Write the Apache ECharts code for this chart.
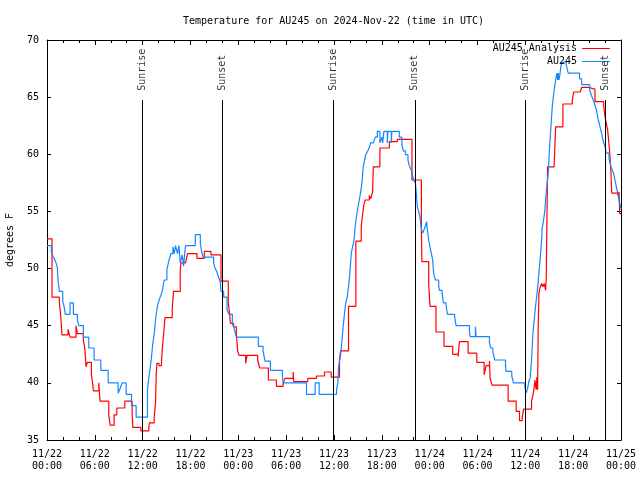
<!DOCTYPE html>
<html><head><meta charset="utf-8">
<script src="https://cdn.jsdelivr.net/npm/echarts@6/dist/echarts.min.js"></script>
<style>html,body{margin:0;padding:0;background:#fff}#c{width:640px;height:480px}</style>
</head><body><div id="c"></div>
<script>
const titleText = 'Temperature for AU245 on 2024-Nov-22 (time in UTC)';
const yAxisName = 'degrees F';
const seriesNames = ['AU245 Analysis', 'AU245'];
const seriesColors = ['#ff0000', '#1486ff'];
const xTickLabels = ['11/22\n00:00','11/22\n06:00','11/22\n12:00','11/22\n18:00',
  '11/23\n00:00','11/23\n06:00','11/23\n12:00','11/23\n18:00',
  '11/24\n00:00','11/24\n06:00','11/24\n12:00','11/24\n18:00','11/25\n00:00'];
// hours since 11/22 00:00 UTC
const sunEventNames = ['Sunrise','Sunset','Sunrise','Sunset','Sunrise','Sunset'];
const sunEventHours = [11.95, 21.99, 35.92, 46.13, 60.0, 70.03];

const analysisHours = [0,0.63,1.55,1.72,1.88,2.64,2.89,3.64,3.81,4.56,4.74,4.90,5.06,5.57,5.74,5.82,6.50,6.57,6.66,7.75,7.92,8.42,8.76,9.76,10.68,10.77,11.77,12.78,12.86,13.45,13.61,13.70,13.78,14.04,14.36,14.45,14.70,14.79,15.71,15.87,16.71,16.80,17.38,17.63,18.81,19.73,20.57,21.83,22.74,22.91,23.00,23.41,23.75,23.84,23.91,24.09,24.92,25.09,26.43,26.68,27.77,28.78,29.62,29.87,30.88,30.95,32.71,33.80,34.81,35.65,36.69,36.82,37.82,38.74,39.42,39.58,39.75,39.92,40.43,40.59,40.84,40.93,41.76,42.94,43.94,45.78,46.96,47.03,47.88,48.04,48.79,49.80,50.89,51.56,51.73,52.82,53.91,54.83,55.08,55.50,55.58,55.83,57.84,58.85,59.27,59.60,59.78,60.78,60.95,61.11,61.20,61.36,61.45,61.54,61.61,61.70,61.86,62.04,62.20,62.37,62.54,62.62,62.79,63.62,63.80,64.71,65.88,66.06,66.89,67.06,67.90,68.74,69.83,69.99,70.16,70.33,70.58,70.75,70.84,71.59,71.75,71.84,72.0];
const analysisTemps = [52.6,47.5,47.0,45.9,44.2,44.7,44.0,45.0,44.3,43.8,43.0,41.4,41.8,40.7,39.85,39.3,40.0,39.2,38.4,37.2,36.3,37.2,37.8,38.4,37.3,36.1,35.8,36.2,36.5,37.0,38.2,40.7,41.7,41.5,41.8,42.9,44.8,45.7,46.5,48.0,49.9,50.5,50.6,51.3,50.9,51.5,51.2,48.9,47.0,46.0,45.2,44.9,44.3,43.5,42.8,42.4,41.7,42.4,42.0,41.3,40.25,39.7,40.0,40.4,40.95,40.1,40.4,40.6,40.95,40.5,41.95,42.8,46.7,52.4,53.7,54.7,55.6,56.0,56.4,56.1,56.7,58.9,60.55,61.1,61.3,57.75,53.4,50.6,48.65,46.7,44.45,43.2,42.5,42.3,43.6,42.6,41.8,40.7,41.5,41.9,40.4,39.8,38.4,37.5,36.7,36.9,37.7,38.4,38.9,39.6,40.25,39.4,40.5,39.4,44.6,47.8,48.4,48.7,48.4,48.7,48.1,49.1,58.9,59.2,62.4,64.4,64.7,65.45,65.6,65.85,65.7,64.6,64.2,63.3,62.7,62.1,60.2,58.3,56.6,56.4,56.7,54.8,54.8];

const obsHours = [0,0.54,0.79,0.97,1.13,1.29,1.38,1.55,1.97,2.14,2.30,2.89,3.31,3.81,3.98,4.56,5.24,5.91,6.75,7.67,8.92,9.17,9.42,9.93,10.60,11.18,12.60,12.78,12.94,13.11,13.28,13.45,13.61,13.78,13.95,14.20,14.45,14.70,15.04,15.29,15.54,15.80,15.96,16.12,16.37,16.55,16.71,16.96,17.13,17.30,17.38,18.60,19.23,19.39,19.57,20.90,21.07,21.32,21.49,21.74,21.83,22.16,22.58,22.83,23.25,23.50,23.75,26.51,27.10,27.35,28.02,29.53,29.62,32.55,33.64,34.14,36.32,36.48,36.57,36.82,36.98,37.07,37.23,37.32,37.48,37.66,37.82,37.99,38.16,38.33,38.49,38.66,38.83,38.99,39.17,39.33,39.50,39.67,39.83,40.00,40.25,40.43,40.59,40.93,41.18,41.44,41.76,42.01,42.10,42.26,42.69,42.76,43.19,43.26,44.19,44.52,44.69,44.95,45.28,45.45,45.70,45.87,46.04,46.21,46.29,46.46,46.62,46.79,46.96,47.13,47.28,47.46,47.62,47.71,47.88,48.04,48.21,48.38,48.46,48.55,48.72,49.13,49.22,49.55,49.72,50.05,50.23,51.14,51.31,52.99,53.07,53.74,53.82,55.50,55.66,55.92,56.17,57.51,57.58,58.30,58.52,59.94,60.10,60.28,60.44,60.61,60.78,60.95,61.11,61.28,61.45,61.61,61.70,61.86,62.04,62.11,62.29,62.45,62.54,62.70,62.87,63.05,63.21,63.38,63.55,63.72,63.88,63.97,64.05,64.13,64.21,64.30,64.46,64.55,64.71,65.13,65.38,66.80,67.06,68.07,68.32,68.49,68.65,68.90,69.15,69.33,69.58,69.74,69.99,70.16,70.50,70.75,70.91,71.08,71.25,71.41,71.59,71.75,71.91,72.0];
const obsTemps = [52.0,51.5,51.0,50.8,50.5,50.1,49.0,48.0,47.2,46.7,46.0,47.0,46.0,45.5,45.0,44.0,43.05,42.0,41.1,40.0,39.1,39.5,40.0,39.0,38.0,37.0,39.4,40.5,41.3,42.3,43.5,44.3,45.5,46.4,47.0,47.5,48.0,49.0,49.9,50.7,51.3,51.9,51.3,52.0,51.3,52.0,50.5,51.2,50.2,51.5,52.0,52.97,52.2,51.5,51.0,50.5,50.05,49.7,49.3,48.8,48.0,47.5,46.4,46.0,45.2,44.7,44.0,43.2,42.8,41.9,41.1,40.6,40.0,39.0,40.0,39.0,39.4,40.0,41.4,42.4,43.5,44.3,45.5,46.1,47.0,47.5,48.4,49.6,51.3,51.9,52.4,53.7,54.6,55.3,56.0,56.6,57.5,58.9,59.5,60.0,60.3,60.6,61.0,61.1,61.5,62.0,61.0,61.5,61.0,62.0,61.0,62.0,61.0,62.0,61.5,60.85,60.3,59.97,59.5,59.0,58.6,58.1,57.7,57.5,56.9,55.4,55.0,54.5,53.4,53.1,53.4,53.7,54.1,53.4,52.5,51.9,51.3,50.75,49.9,49.4,49.0,48.5,48.1,47.9,47.0,46.8,46.0,45.7,45.0,44.5,44.05,44.9,44.05,43.5,43.05,42.7,42.0,41.5,41.0,40.6,40.0,39.6,39.1,39.5,40.1,40.5,42.0,44.3,45.5,46.7,47.7,48.8,49.6,50.8,52.5,53.5,54.25,55.1,56.0,57.2,58.3,60.7,62.4,64.2,65.3,66.1,66.8,67.1,66.5,67.1,66.5,66.8,67.7,68.0,68.1,67.8,67.1,66.6,66.1,65.6,65.1,64.8,64.5,63.9,63.0,62.5,61.8,61.2,60.7,60.1,59.6,58.9,58.6,58.3,57.7,57.2,56.6,56.0,55.5,55.2];

const FONT = 'DejaVu Sans Mono';
const txt = {fontFamily: FONT, fontSize: 10, color: '#000'};
const Y_MIN = 35, Y_MAX = 70;
const SUN_LINE_TOP = 64.75, SUN_LABEL_Y = 65.55;

const pairs = (hs, vs) => hs.map((h, i) => [h, vs[i]]);

const xBase = {
  type: 'value', min: 0, max: 72, interval: 6,
  axisLine: {show: true, onZero: false, lineStyle: {color: '#000', width: 1}},
  axisTick: {show: true, inside: true, length: 5, lineStyle: {color: '#000'}},
  minorTick: {show: true, splitNumber: 3, length: 3, lineStyle: {color: '#000'}},
  splitLine: {show: false}, minorSplitLine: {show: false}
};
const yBase = {
  type: 'value', min: Y_MIN, max: Y_MAX, interval: 5,
  axisLine: {show: true, onZero: false, lineStyle: {color: '#000', width: 1}},
  axisTick: {show: true, inside: true, length: 4, lineStyle: {color: '#000'}},
  splitLine: {show: false}
};

const chart = echarts.init(document.getElementById('c'), null, {renderer: 'canvas'});
chart.setOption({
  animation: false,
  backgroundColor: '#fff',
  title: {text: titleText, left: 183, top: 15, padding: 0,
    textStyle: Object.assign({fontWeight: 'normal', lineHeight: 12}, txt)},
  legend: {
    data: seriesNames.map((n, i) => ({name: n, itemStyle: {color: seriesColors[i]}})),
    orient: 'vertical', align: 'right', right: 30, top: 42,
    padding: 0, itemGap: 0, itemWidth: 28, itemHeight: 1, icon: 'rect',
    selectedMode: false, textStyle: Object.assign({lineHeight: 13}, txt)
  },
  grid: {left: 47, right: 19, top: 40, bottom: 40, containLabel: false, outerBoundsMode: 'none'},
  xAxis: [
    Object.assign({}, xBase, {position: 'bottom',
      axisLabel: Object.assign({formatter: v => xTickLabels[Math.round(v / 6)], lineHeight: 12, margin: 8,
        showMinLabel: true, showMaxLabel: true, hideOverlap: false}, txt)}),
    Object.assign({}, xBase, {position: 'top', axisLabel: {show: false}})
  ],
  yAxis: [
    Object.assign({}, yBase, {position: 'left', name: yAxisName, nameLocation: 'middle', nameRotate: 90, nameGap: 32,
      nameTextStyle: txt, axisLabel: Object.assign({margin: 8}, txt)}),
    Object.assign({}, yBase, {position: 'right', axisLabel: {show: false}})
  ],
  series: [
    {name: seriesNames[0], type: 'line', step: 'end', data: pairs(analysisHours, analysisTemps),
     symbol: 'none', color: seriesColors[0], lineStyle: {color: seriesColors[0], width: 1.2}, emphasis: {disabled: true}, z: 2},
    {name: seriesNames[1], type: 'line', step: 'end', data: pairs(obsHours, obsTemps),
     symbol: 'none', color: seriesColors[1], lineStyle: {color: seriesColors[1], width: 1.2}, emphasis: {disabled: true}, z: 3},
    {name: 'sun', type: 'scatter', symbolSize: 0, silent: true, z: 5,
     data: sunEventHours.map((h, i) => [h, SUN_LABEL_Y, sunEventNames[i]]),
     label: Object.assign({show: true, formatter: p => p.value[2], position: 'inside', rotate: 90,
       align: 'left', verticalAlign: 'middle'}, txt),
     emphasis: {disabled: true},
     markLine: {silent: true, symbol: ['none', 'none'], animation: false,
       lineStyle: {color: '#000', width: 1, type: 'solid'}, label: {show: false},
       emphasis: {disabled: true},
       data: sunEventHours.map(h => [{coord: [h, Y_MIN]}, {coord: [h, SUN_LINE_TOP]}])}
    }
  ]
});
</script></body></html>
